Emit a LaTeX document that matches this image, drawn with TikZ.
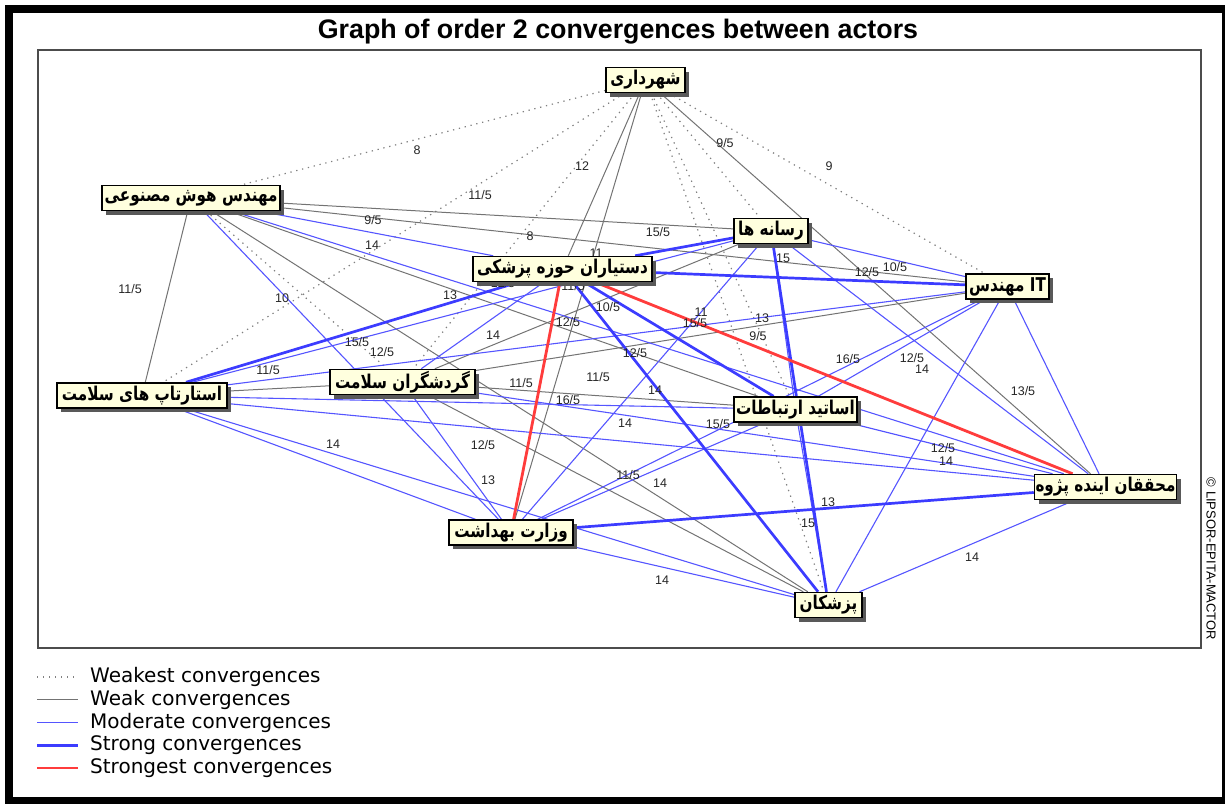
\documentclass[tikz,border=0pt]{standalone}
\usepackage{fontspec}
\usepackage{graphicx}
\setmainfont{Liberation Sans}
\newfontfamily\fa[Script=Arabic]{DejaVu Sans}
\newfontfamily\legfont{DejaVu Sans}
\TeXXeTstate=1
\usetikzlibrary{shadows}
\pgfdeclarelayer{background}
\pgfsetlayers{background,main}
\definecolor{boxyellow}{RGB}{255,255,222}
\definecolor{midblue}{RGB}{85,85,255}
\definecolor{deepblue}{RGB}{60,60,255}
\definecolor{softred}{RGB}{255,60,60}
\newcommand{\fatext}[1]{\scalebox{0.8}[1]{\fa\bfseries\beginR #1\endR}}

\begin{document}
\begin{tikzpicture}[x=1pt, y=-1pt,
actor/.style={draw, line width=1.5pt, fill=boxyellow, inner sep=1pt, minimum height=25pt,
  font=\fontsize{19}{21}\selectfont,
  drop shadow={shadow xshift=4pt, shadow yshift=-4pt, fill=black!65, opacity=1}},
weakest/.style={draw=black!50, line width=1.2pt, dash pattern=on 1.3pt off 4.7pt},
weak/.style={draw=black!55, line width=1pt},
moderate/.style={draw=midblue, line width=1.1pt},
strong/.style={draw=deepblue, line width=2.7pt},
strongest/.style={draw=softred, line width=2.8pt}]
\tikzstyle{lbl}=[font=\fontsize{12.5}{13}\selectfont, text=black!85, inner sep=0pt]
\tikzstyle{legtext}=[font=\legfont\fontsize{20}{22}\selectfont, inner sep=0pt, anchor=west]

%Frames
\useasboundingbox (0,0) rectangle (1225,803);
\draw[line width=8pt] (9,9) rectangle (1226,801);
\draw[black!70, line width=2pt] (38,50) rectangle (1201,648);
\node[font=\bfseries\fontsize{26.8}{30}\selectfont, anchor=base] (title) at (618,38) {Graph of order 2 convergences between actors};
\node[rotate=-90, font=\fontsize{13}{13}\selectfont] (copy) at (1211,559) {© LIPSOR-EPITA-MACTOR};

%Actors
\node[actor, minimum width=79pt] (mun) at (645.5,80) {\fatext{شهرداری}};
\node[actor, minimum width=178pt] (aieng) at (191,198) {\fatext{مهندس هوش مصنوعی}};
\node[actor, minimum width=74pt] (media) at (771,231) {\fatext{رسانه ها}};
\node[actor, minimum width=179pt] (assist) at (562.5,269) {\fatext{دستیاران حوزه پزشکی}};
\node[actor, minimum width=83pt] (iteng) at (1007.5,286.5) {\fatext{\beginL IT\endL{} مهندس}};
\node[actor, minimum width=170pt] (startup) at (142,395.5) {\fatext{استارتاپ های سلامت}};
\node[actor, minimum width=145pt] (tourist) at (402.5,382) {\fatext{گردشگران سلامت}};
\node[actor, minimum width=123pt] (prof) at (795.5,409.5) {\fatext{اساتید ارتباطات}};
\node[actor, minimum width=129pt] (future) at (1105.5,487) {\fatext{محققان اینده پژوه}};
\node[actor, minimum width=124pt] (ministry) at (511,532.5) {\fatext{وزارت بهداشت}};
\node[actor, minimum width=67pt] (doctors) at (828.5,605) {\fatext{پزشکان}};

\begin{pgfonlayer}{background}
%Convergences
\foreach \a/\b in {mun/aieng, mun/media, mun/iteng, mun/startup, mun/tourist, mun/prof, mun/doctors, aieng/tourist}
  \draw[weakest] (\a) -- (\b);
\foreach \a/\b in {mun/assist, mun/future, mun/ministry, aieng/media, aieng/iteng, aieng/startup, aieng/prof,
  aieng/doctors, media/tourist, iteng/tourist, startup/tourist, tourist/prof, tourist/doctors}
  \draw[weak] (\a) -- (\b);
\foreach \a/\b in {aieng/assist, aieng/future, aieng/ministry, media/iteng, media/startup, media/future,
  media/ministry, media/prof, iteng/startup, iteng/prof, iteng/future, iteng/ministry, iteng/doctors,
  startup/prof, startup/future, startup/ministry, startup/doctors, tourist/assist, tourist/future,
  tourist/ministry, prof/future, prof/ministry, prof/doctors, future/doctors, ministry/doctors}
  \draw[moderate] (\a) -- (\b);
\foreach \a/\b in {media/assist, media/doctors, assist/iteng, assist/startup, assist/prof, assist/doctors, future/ministry}
  \draw[strong] (\a) -- (\b);
\foreach \a/\b in {assist/future, assist/ministry}
  \draw[strongest] (\a) -- (\b);

%Values
\foreach \px/\py/\txt in {417/150/8, 480/195/{11/5}, 582/166/12, 725/143/{9/5}, 829/166/9,
  130/289/{11/5}, 373/220/{9/5}, 372/245/14, 530/236/8, 658/232/{15/5}, 596/253/11, 783/258/15,
  867/272/{12/5}, 895/267/{10/5}, 282/298/10, 450/295/13, 503/283/{12/5}, 573/286/{11/5},
  608/307/{10/5}, 568/322/{12/5}, 493/335/14, 701/312/11, 695/323/{15/5}, 762/318/13, 758/336/{9/5},
  357/342/{15/5}, 382/352/{12/5}, 268/370/{11/5}, 635/353/{12/5}, 848/359/{16/5}, 912/358/{12/5},
  922/369/14, 521/383/{11/5}, 598/377/{11/5}, 655/390/14, 568/400/{16/5}, 1023/391/{13/5},
  625/423/14, 718/424/{15/5}, 333/444/14, 483/445/{12/5}, 943/448/{12/5}, 946/461/14, 488/480/13,
  628/475/{11/5}, 660/483/14, 828/502/13, 808/523/15, 662/580/14, 972/557/14}
  \node[lbl] at (\px,\py) {\txt};
\end{pgfonlayer}

%Legend
\foreach \s/\t [count=\i] in {weakest/Weakest convergences, weak/Weak convergences,
  moderate/Moderate convergences, strong/Strong convergences, strongest/Strongest convergences}
{
  \node[legtext] (leg\i) at (90,654.3+22.75*\i) {\t};
  \draw[\s] ([xshift=-53pt]leg\i.west) -- ([xshift=-12pt]leg\i.west);
}
\end{tikzpicture}
\end{document}
